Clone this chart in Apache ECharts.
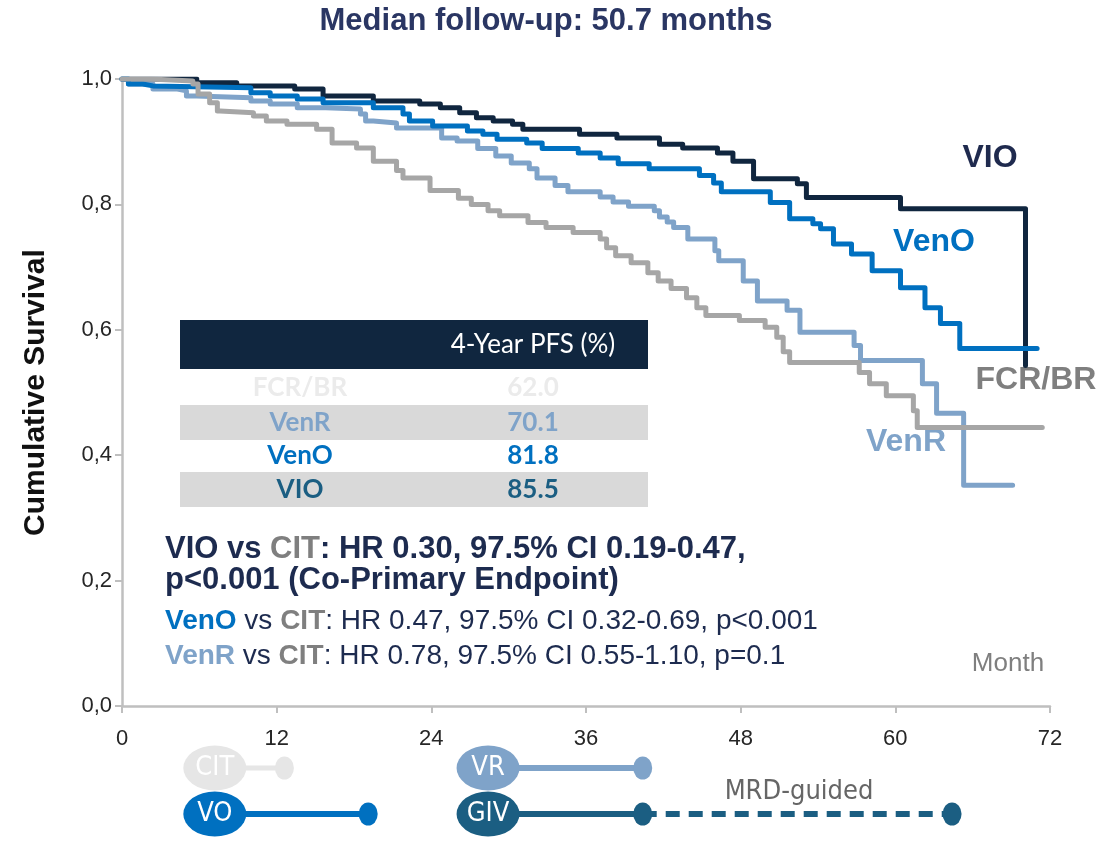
<!DOCTYPE html>
<html><head><meta charset="utf-8">
<script src="https://cdn.jsdelivr.net/npm/echarts@6/dist/echarts.min.js"></script>
<style>html,body{margin:0;padding:0;background:#fff}#c{width:1115px;height:843px}</style>
</head><body><div id="c"></div>
<script>
// ---- data ----
const xTicks = [0, 12, 24, 36, 48, 60, 72];
const yTicks = [0, 0.2, 0.4, 0.6, 0.8, 1.0];

const vioT = [0,5.8,8.9,13.4,15.6,19.5,23.1,24.7,26.2,27.5,28.8,30.3,31.1,35.5,38.4,41.7,43.5,46.2,47.4,49.0,52.4,53.1,60.4,70.1];
const vioS = [1.0,0.994,0.989,0.984,0.973,0.965,0.96,0.954,0.946,0.938,0.933,0.928,0.92,0.912,0.906,0.896,0.89,0.882,0.869,0.841,0.833,0.811,0.793,0.543];

const venoT = [0,0.5,1.6,2.4,10,11.5,13.6,15.6,19.5,21.8,22.3,24.1,26.8,28,29.1,31.4,32.6,35.4,37.1,38.5,40.9,44.8,45.9,46.5,50.3,51.8,53.6,54.2,55.2,56.6,58.2,60.4,62.3,63.5,65,71.0];
const venoS = [1.0,0.992,0.989,0.986,0.978,0.973,0.968,0.962,0.954,0.944,0.933,0.925,0.917,0.912,0.904,0.898,0.889,0.882,0.874,0.865,0.857,0.846,0.834,0.82,0.803,0.777,0.769,0.761,0.737,0.721,0.694,0.667,0.635,0.61,0.57,0.57];

const venrT = [0,0.5,2.4,4.3,5.0,5.8,10,11.5,13.6,15.8,18.5,18.9,19.5,21.3,24.8,26,27.6,29,30.2,31.6,32.2,33.6,34.6,37.1,38.1,39.3,41.3,41.7,42.3,42.8,43.9,46,46.3,48.2,49.3,51.6,52.6,56.8,57.3,62.1,63.2,65.3,69.1];
const venrS = [1.0,0.992,0.984,0.981,0.973,0.97,0.965,0.96,0.954,0.952,0.944,0.933,0.93,0.922,0.906,0.901,0.889,0.877,0.866,0.857,0.842,0.83,0.82,0.812,0.804,0.797,0.79,0.78,0.772,0.763,0.745,0.726,0.71,0.678,0.646,0.631,0.596,0.575,0.551,0.514,0.467,0.352,0.352];

const fcrT = [0,2.2,5.5,5.9,6.8,7.4,7.6,10.2,11.2,12.8,15.1,16.3,18.2,19.5,21.3,21.8,23.9,26.1,27.1,28.4,29.3,31.5,32.9,35.0,37.1,37.6,38.3,39.5,40.8,41.6,42.6,43.8,44.6,45.3,47.9,49.9,50.8,51.3,51.8,57.2,58.0,59.3,61.4,61.7,71.4];
const fcrS = [1.0,0.997,0.992,0.976,0.962,0.949,0.946,0.941,0.933,0.928,0.92,0.898,0.89,0.869,0.854,0.842,0.822,0.81,0.80,0.79,0.782,0.771,0.763,0.755,0.745,0.731,0.718,0.707,0.691,0.678,0.666,0.651,0.635,0.623,0.615,0.604,0.588,0.565,0.548,0.532,0.514,0.495,0.471,0.444,0.444];

// 4-year PFS table
const tableArms = ['FCR/BR', 'VenR', 'VenO', 'VIO'];
const tablePFS = ['62.0', '70.1', '81.8', '85.5'];

// treatment schema (months)
const schemaNames = ['CIT', 'VR', 'VO', 'GIV'];
const schemaRow = [1.5, 1.5, 0.5, 0.5];
const schemaStart = [7.2, 28.4, 7.2, 28.4];
const schemaEnd = [12.6, 40.4, 19.1, 40.4];
const mrdEnd = 64.4;

// ---- chart ----
const C = {vio:'#10263f', veno:'#0070c0', venr:'#7fa3c9', fcr:'#a6a6a6', giv:'#1b5e82', cit:'#e6e6e6'};
const zip = (t, s) => t.map((v, i) => [v, s[i]]);
const km = (name, t, s, color, z) => ({
  name, type:'line', step:'end', data: zip(t, s), xAxisIndex:0, yAxisIndex:0,
  symbol:'none', z, lineStyle:{color, width:5, cap:'round', join:'round'}
});

const narrow = '"Liberation Sans Narrow","DejaVu Sans Condensed",sans-serif';
const schemaColors = [C.cit, C.venr, C.veno, C.giv];
const schemaWidth = [5, 6, 6, 6];
const schemaSeries = [];
schemaNames.forEach((n, i) => {
  schemaSeries.push({
    type:'line', xAxisIndex:1, yAxisIndex:1, symbol:'none', z:5,
    data:[[schemaStart[i], schemaRow[i]], [schemaEnd[i], schemaRow[i]]],
    lineStyle:{color:schemaColors[i], width:schemaWidth[i]}
  });
  schemaSeries.push({
    type:'scatter', xAxisIndex:1, yAxisIndex:1, z:6, symbol:'circle', symbolSize:[19,23],
    data:[[schemaEnd[i], schemaRow[i]]], itemStyle:{color:schemaColors[i], opacity:1}
  });
  schemaSeries.push({
    type:'scatter', xAxisIndex:1, yAxisIndex:1, z:7, symbol:'circle', symbolSize:[63,45],
    data:[[schemaStart[i], schemaRow[i]]], itemStyle:{color:schemaColors[i], opacity:1},
    label:{show:true, position:'inside', formatter:n, color:'#fff', fontSize:27, fontFamily:narrow}
  });
});
schemaSeries.push({
  type:'line', xAxisIndex:1, yAxisIndex:1, symbol:'none', z:5,
  data:[[schemaEnd[3], schemaRow[3]], [mrdEnd, schemaRow[3]]],
  lineStyle:{color:C.giv, width:6, type:[14,9]}
});
schemaSeries.push({
  type:'scatter', xAxisIndex:1, yAxisIndex:1, z:6, symbol:'circle', symbolSize:[19,23],
  data:[[mrdEnd, schemaRow[3]]], itemStyle:{color:C.giv, opacity:1}
});

// table graphics
const tblL = 180, tblW = 468, col1 = 300, col2 = 533;
const rowTop = [370, 405, 440, 472], rowH = [35, 35, 32, 35];
const rowBg = [null, '#d9d9d9', null, '#d9d9d9'];
const rowCol = ['#ebebeb', C.venr, C.veno, C.giv];
const tblFont = 'Lato,"Open Sans",sans-serif';
const graphics = [
  {type:'rect', shape:{x:tblL, y:320, width:tblW, height:49}, style:{fill:'#10263f'}, z:10},
  {type:'text', x:col2, y:345, style:{text:'4-Year PFS (%)', fill:'#fff', font:'26px '+tblFont, textAlign:'center', textVerticalAlign:'middle'}, z:11}
];
tableArms.forEach((a, i) => {
  if (rowBg[i]) graphics.push({type:'rect', shape:{x:tblL, y:rowTop[i], width:tblW, height:rowH[i]}, style:{fill:rowBg[i]}, z:10});
  const cy = rowTop[i] + rowH[i]/2;
  graphics.push({type:'text', x:col1, y:cy, style:{text:a, fill:rowCol[i], font:'bold 26px '+tblFont, textAlign:'center', textVerticalAlign:'middle'}, z:11});
  graphics.push({type:'text', x:col2, y:cy, style:{text:tablePFS[i], fill:rowCol[i], font:'bold 26px '+tblFont, textAlign:'center', textVerticalAlign:'middle'}, z:11});
});
const ff = '"Liberation Sans",Arial,sans-serif';
const NV = '#1d2b4f', GR = '#7f7f7f';
graphics.push(
  {type:'text', x:546, y:21, style:{text:'Median follow-up: 50.7 months', fill:'#2a3663', font:'bold 31px '+ff, textAlign:'center', textVerticalAlign:'middle'}},
  {type:'text', x:990, y:158, style:{text:'VIO', fill:'#1f2a4e', font:'bold 32px '+ff, textAlign:'center', textVerticalAlign:'middle'}},
  {type:'text', x:934, y:242, style:{text:'VenO', fill:C.veno, font:'bold 32px '+ff, textAlign:'center', textVerticalAlign:'middle'}},
  {type:'text', x:1036, y:380, style:{text:'FCR/BR', fill:GR, font:'bold 32px '+ff, textAlign:'center', textVerticalAlign:'middle'}},
  {type:'text', x:906, y:442, style:{text:'VenR', fill:C.venr, font:'bold 32px '+ff, textAlign:'center', textVerticalAlign:'middle'}},
  {type:'text', x:1008, y:664, style:{text:'Month', fill:GR, font:'26px '+ff, textAlign:'center', textVerticalAlign:'middle'}},
  {type:'text', x:799, y:792, style:{text:'MRD-guided', fill:'#666', font:'27px '+narrow, textAlign:'center', textVerticalAlign:'middle'}},
  {type:'text', x:165, y:549, style:{text:'{a|VIO vs }{b|CIT}{a|: HR 0.30, 97.5% CI 0.19-0.47,}', textVerticalAlign:'middle',
     rich:{a:{fill:NV, font:'bold 31px '+ff}, b:{fill:GR, font:'bold 31px '+ff}}}},
  {type:'text', x:165, y:580, style:{text:'p<0.001 (Co-Primary Endpoint)', fill:NV, font:'bold 31px '+ff, textVerticalAlign:'middle'}},
  {type:'text', x:165, y:621, style:{text:'{c|VenO}{a| vs }{b|CIT}{a|: HR 0.47, 97.5% CI 0.32-0.69, p<0.001}', textVerticalAlign:'middle',
     rich:{a:{fill:NV, font:'28px '+ff}, b:{fill:GR, font:'bold 28px '+ff}, c:{fill:C.veno, font:'bold 28px '+ff}}}},
  {type:'text', x:165, y:656, style:{text:'{c|VenR}{a| vs }{b|CIT}{a|: HR 0.78, 97.5% CI 0.55-1.10, p=0.1}', textVerticalAlign:'middle',
     rich:{a:{fill:NV, font:'28px '+ff}, b:{fill:GR, font:'bold 28px '+ff}, c:{fill:C.venr, font:'bold 28px '+ff}}}}
);

const chart = echarts.init(document.getElementById('c'), null, {renderer:'canvas'});
chart.setOption({
  animation:false,
  backgroundColor:'#fff',
  grid:[{left:122, right:65, top:79, bottom:137}, {left:122, right:65, top:745, height:92}],
  xAxis:[{
    type:'value', min:xTicks[0], max:xTicks[xTicks.length-1], interval:12, gridIndex:0,
    axisLine:{show:true, onZero:false, lineStyle:{color:'#bfbfbf', width:2.5}},
    axisTick:{show:true, length:7, lineStyle:{color:'#bfbfbf', width:2}},
    splitLine:{show:false},
    axisLabel:{margin:22, color:'#262626', fontSize:22, fontFamily:ff}
  },{
    type:'value', min:xTicks[0], max:xTicks[xTicks.length-1], gridIndex:1, show:false
  }],
  yAxis:[{
    type:'value', min:0, max:1, interval:0.2, gridIndex:0,
    name:'Cumulative Survival', nameLocation:'middle', nameGap:71, nameRotate:90,
    nameTextStyle:{color:'#111', fontSize:30, fontWeight:'bold', fontFamily:ff},
    axisLine:{show:true, lineStyle:{color:'#bfbfbf', width:2.5}},
    axisTick:{show:true, length:7, lineStyle:{color:'#bfbfbf', width:2}},
    splitLine:{show:false},
    axisLabel:{margin:10, color:'#262626', fontSize:22, fontFamily:ff, formatter:v => v.toFixed(1).replace('.', ',')}
  },{
    type:'value', min:0, max:2, gridIndex:1, show:false
  }],
  series:[
    km('VIO', vioT, vioS, C.vio, 2),
    km('VenR', venrT, venrS, C.venr, 3),
    km('VenO', venoT, venoS, C.veno, 4),
    km('FCR/BR', fcrT, fcrS, C.fcr, 5),
    ...schemaSeries
  ],
  graphic: graphics
});
</script></body></html>
